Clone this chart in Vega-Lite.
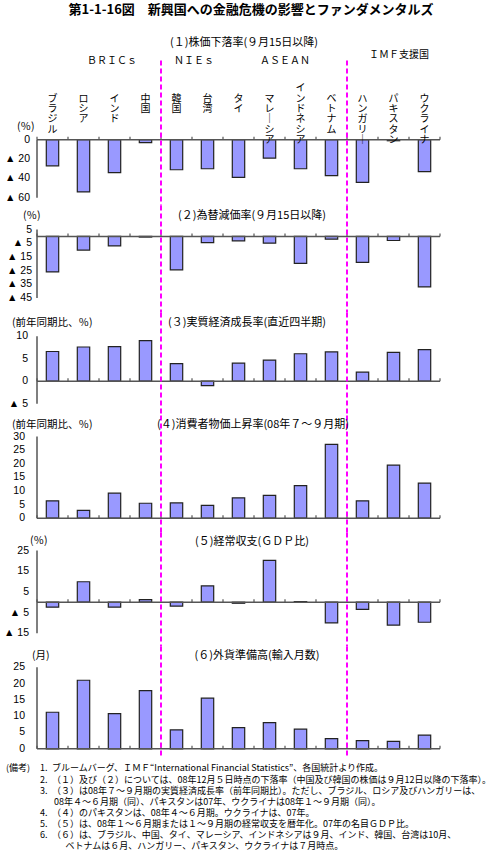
{
  "$schema": "https://vega.github.io/schema/vega-lite/v6.json",
  "padding": {"left": 4, "top": 3.5, "right": 2, "bottom": 2},
  "background": "white",
  "spacing": 0,
  "bounds": "flush",
  "config": {
    "view": {"stroke": null},
    "font": "Noto Sans CJK JP",
    "text": {"font": "Noto Sans CJK JP", "color": "#000"},
    "axis": {"domain": false, "grid": false, "labels": false, "tickColor": "#555", "tickWidth": 1.5, "tickSize": -3}
  },
  "data": {"values": [
    {"country": "ブラジル", "stock": -27, "fx": -26, "gdp": 6.6, "cpi": 6.4, "ca": -2.4, "reserves": 11.2},
    {"country": "ロシア", "stock": -54, "fx": -10, "gdp": 7.6, "cpi": 2.9, "ca": 9.9, "reserves": 21.0},
    {"country": "インド", "stock": -34, "fx": -7, "gdp": 7.7, "cpi": 9.2, "ca": -2.4, "reserves": 10.8},
    {"country": "中国", "stock": -3, "fx": -0.5, "gdp": 9.0, "cpi": 5.5, "ca": 1.2, "reserves": 17.8},
    {"country": "韓国", "stock": -31, "fx": -24.5, "gdp": 3.9, "cpi": 5.6, "ca": -1.9, "reserves": 5.8},
    {"country": "台湾", "stock": -30, "fx": -4.5, "gdp": -1.0, "cpi": 4.7, "ca": 7.9, "reserves": 15.5},
    {"country": "タイ", "stock": -39, "fx": -3.3, "gdp": 4.0, "cpi": 7.5, "ca": -0.5, "reserves": 6.5},
    {"country": "マレーシア", "stock": -19, "fx": -5, "gdp": 4.7, "cpi": 8.4, "ca": 20.2, "reserves": 8.0},
    {"country": "インドネシア", "stock": -30, "fx": -19.7, "gdp": 6.1, "cpi": 12.0, "ca": 0.3, "reserves": 6.0},
    {"country": "ベトナム", "stock": -37, "fx": -2, "gdp": 6.5, "cpi": 27.1, "ca": -10.0, "reserves": 3.1},
    {"country": "ハンガリー", "stock": -44, "fx": -19, "gdp": 2.0, "cpi": 6.4, "ca": -3.5, "reserves": 2.5},
    {"country": "パキスタン", "stock": -1, "fx": -3, "gdp": 6.4, "cpi": 19.5, "ca": -11.1, "reserves": 2.3},
    {"country": "ウクライナ", "stock": -33, "fx": -37, "gdp": 7.0, "cpi": 12.9, "ca": -9.7, "reserves": 4.2}
  ]},
  "vconcat": [
    {
      "width": 403, "height": 145,
      "layer": [
        {"mark": {"type": "bar", "width": {"band": 0.4}, "fill": "#9999FF", "stroke": "#222", "strokeWidth": 1.2},
         "encoding": {
           "x": {"field": "country", "type": "nominal", "axis": null, "scale": {"domain": ["ブラジル","ロシア","インド","中国","韓国","台湾","タイ","マレーシア","インドネシア","ベトナム","ハンガリー","パキスタン","ウクライナ"], "paddingInner": 0, "paddingOuter": 0}},
           "y": {"field": "stock", "type": "quantitative", "scale": {"domain": [-68, 82], "nice": false, "zero": false}, "axis": {"title": null, "values": [0, -20, -40, -60]}}}},
        {"data": {"values": [{"v": 0, "lab": "0"}, {"v": -20, "lab": "▲ 20"}, {"v": -40, "lab": "▲ 40"}, {"v": -60, "lab": "▲ 60"}]},
         "mark": {"type": "text", "font": "Liberation Sans", "fontSize": 10.5, "align": "right", "baseline": "middle", "dx": -7},
         "encoding": {"x": {"datum": "ブラジル", "bandPosition": 0, "axis": null}, "y": {"field": "v", "type": "quantitative", "axis": null, "title": null}, "text": {"field": "lab"}}},
        {"data": {"values": [{}]}, "mark": {"type": "rule", "color": "#555", "strokeWidth": 1.5}, "encoding": {"y": {"datum": 0, "axis": null}}},
        {"mark": {"type": "rule", "color": "#555", "strokeWidth": 1.2, "y2Offset": -3}, "encoding": {"x": {"field": "country", "type": "nominal", "bandPosition": 0, "axis": null}, "y": {"datum": 0, "axis": null}, "y2": {"datum": 0}}},
        {"data": {"values": [{}]}, "mark": {"type": "rule", "color": "#555", "strokeWidth": 1.2, "y2Offset": -3}, "encoding": {"x": {"datum": "ウクライナ", "bandPosition": 1, "axis": null}, "y": {"datum": 0, "axis": null}, "y2": {"datum": 0}}},
        {"data": {"values": [{}]}, "mark": {"type": "rule", "color": "#555", "strokeWidth": 1.5}, "encoding": {"x": {"datum": "ブラジル", "bandPosition": 0, "axis": null}, "y": {"datum": -60, "axis": null}, "y2": {"datum": 0}}},
        {"data": {"values": [{"c": "韓国"}, {"c": "ハンガリー"}]}, "mark": {"type": "rule", "color": "#FF00FF", "strokeWidth": 2, "strokeDash": [5, 3]}, "encoding": {"x": {"field": "c", "type": "nominal", "bandPosition": 0, "axis": null}}},
        {"transform": [{"calculate": "split(pad(replace(datum.country, 'ー', '｜'), 6, '　', 'left'), '')", "as": "vlabel"}],
         "mark": {"type": "text", "fontSize": 10, "lineHeight": 10.3, "baseline": "alphabetic", "align": "center"},
         "encoding": {"x": {"field": "country", "type": "nominal", "axis": null}, "y": {"datum": 50, "axis": null}, "text": {"field": "vlabel"}}},
        {"data": {"values": [{}]}, "mark": {"type": "text", "fontSize": 13, "fontWeight": "bold", "baseline": "middle", "align": "center", "dx": 12.5},
         "encoding": {"x": {"datum": "タイ", "axis": null}, "y": {"datum": 133.8, "axis": null}, "text": {"value": "第1-1-16図　新興国への金融危機の影響とファンダメンタルズ"}}},
        {"data": {"values": [{}]}, "mark": {"type": "text", "fontSize": 11, "baseline": "middle", "align": "center", "dx": 5.5},
         "encoding": {"x": {"datum": "タイ", "axis": null}, "y": {"datum": 99.6, "axis": null}, "text": {"value": "(１)株価下落率(９月15日以降)"}}},
        {"data": {"values": [{}]}, "mark": {"type": "text", "fontSize": 10, "baseline": "middle", "align": "center", "dx": -2.5},
         "encoding": {"x": {"datum": "インド", "axis": null}, "y": {"datum": 82, "axis": null}, "text": {"value": "ＢＲＩＣｓ"}}},
        {"data": {"values": [{}]}, "mark": {"type": "text", "fontSize": 10, "baseline": "middle", "align": "center", "dx": 2},
         "encoding": {"x": {"datum": "台湾", "bandPosition": 0, "axis": null}, "y": {"datum": 82, "axis": null}, "text": {"value": "ＮＩＥｓ"}}},
        {"data": {"values": [{}]}, "mark": {"type": "text", "fontSize": 10, "baseline": "middle", "align": "center"},
         "encoding": {"x": {"datum": "インドネシア", "bandPosition": 0, "axis": null}, "y": {"datum": 82, "axis": null}, "text": {"value": "ＡＳＥＡＮ"}}},
        {"data": {"values": [{}]}, "mark": {"type": "text", "fontSize": 10, "baseline": "middle", "align": "center", "dx": 5.5},
         "encoding": {"x": {"datum": "パキスタン", "axis": null}, "y": {"datum": 87.2, "axis": null}, "text": {"value": "ＩＭＦ支援国"}}},
        {"data": {"values": [{}]}, "mark": {"type": "text", "fontSize": 10.5, "baseline": "middle", "align": "left", "dx": -20},
         "encoding": {"x": {"datum": "ブラジル", "bandPosition": 0, "axis": null}, "y": {"datum": 12.7, "axis": null}, "text": {"value": "(％)"}}}
      ]
    },
    {
      "width": 403, "height": 107,
      "layer": [
        {"mark": {"type": "bar", "width": {"band": 0.4}, "fill": "#9999FF", "stroke": "#222", "strokeWidth": 1.2},
         "encoding": {
           "x": {"field": "country", "type": "nominal", "axis": null, "scale": {"domain": ["ブラジル","ロシア","インド","中国","韓国","台湾","タイ","マレーシア","インドネシア","ベトナム","ハンガリー","パキスタン","ウクライナ"], "paddingInner": 0, "paddingOuter": 0}},
           "y": {"field": "fx", "type": "quantitative", "scale": {"domain": [-55.7, 22.6], "nice": false, "zero": false}, "axis": {"title": null, "values": [5, -5, -15, -25, -35, -45]}}}},
        {"data": {"values": [{"v": 5, "lab": "5"}, {"v": -5, "lab": "▲ 5"}, {"v": -15, "lab": "▲ 15"}, {"v": -25, "lab": "▲ 25"}, {"v": -35, "lab": "▲ 35"}, {"v": -45, "lab": "▲ 45"}]},
         "mark": {"type": "text", "font": "Liberation Sans", "fontSize": 10.5, "align": "right", "baseline": "middle", "dx": -5},
         "encoding": {"x": {"datum": "ブラジル", "bandPosition": 0, "axis": null}, "y": {"field": "v", "type": "quantitative", "axis": null, "title": null}, "text": {"field": "lab"}}},
        {"data": {"values": [{}]}, "mark": {"type": "rule", "color": "#555", "strokeWidth": 1.5}, "encoding": {"y": {"datum": 0, "axis": null}}},
        {"mark": {"type": "rule", "color": "#555", "strokeWidth": 1.2, "y2Offset": -3}, "encoding": {"x": {"field": "country", "type": "nominal", "bandPosition": 0, "axis": null}, "y": {"datum": 0, "axis": null}, "y2": {"datum": 0}}},
        {"data": {"values": [{}]}, "mark": {"type": "rule", "color": "#555", "strokeWidth": 1.2, "y2Offset": -3}, "encoding": {"x": {"datum": "ウクライナ", "bandPosition": 1, "axis": null}, "y": {"datum": 0, "axis": null}, "y2": {"datum": 0}}},
        {"data": {"values": [{}]}, "mark": {"type": "rule", "color": "#555", "strokeWidth": 1.5}, "encoding": {"x": {"datum": "ブラジル", "bandPosition": 0, "axis": null}, "y": {"datum": -45, "axis": null}, "y2": {"datum": 5}}},
        {"data": {"values": [{"c": "韓国"}, {"c": "ハンガリー"}]}, "mark": {"type": "rule", "color": "#FF00FF", "strokeWidth": 2, "strokeDash": [5, 3]}, "encoding": {"x": {"field": "c", "type": "nominal", "bandPosition": 0, "axis": null}}},
        {"data": {"values": [{}]}, "mark": {"type": "text", "fontSize": 11, "baseline": "middle", "align": "center", "dx": 13.5},
         "encoding": {"x": {"datum": "タイ", "axis": null}, "y": {"datum": 15.2, "axis": null}, "text": {"value": "(２)為替減価率(９月15日以降)"}}},
        {"data": {"values": [{}]}, "mark": {"type": "text", "fontSize": 10.5, "baseline": "middle", "align": "left", "dx": -14},
         "encoding": {"x": {"datum": "ブラジル", "bandPosition": 0, "axis": null}, "y": {"datum": 15.2, "axis": null}, "text": {"value": "(％)"}}}
      ]
    },
    {
      "width": 403, "height": 103,
      "layer": [
        {"mark": {"type": "bar", "width": {"band": 0.4}, "fill": "#9999FF", "stroke": "#222", "strokeWidth": 1.2},
         "encoding": {
           "x": {"field": "country", "type": "nominal", "axis": null, "scale": {"domain": ["ブラジル","ロシア","インド","中国","韓国","台湾","タイ","マレーシア","インドネシア","ベトナム","ハンガリー","パキスタン","ウクライナ"], "paddingInner": 0, "paddingOuter": 0}},
           "y": {"field": "gdp", "type": "quantitative", "scale": {"domain": [-7.62, 15.27], "nice": false, "zero": false}, "axis": {"title": null, "values": [10, 5, 0, -5]}}}},
        {"data": {"values": [{"v": 10, "lab": "10"}, {"v": 5, "lab": "5"}, {"v": 0, "lab": "0"}, {"v": -5, "lab": "▲ 5"}]},
         "mark": {"type": "text", "font": "Liberation Sans", "fontSize": 10.5, "align": "right", "baseline": "middle", "dx": -9},
         "encoding": {"x": {"datum": "ブラジル", "bandPosition": 0, "axis": null}, "y": {"field": "v", "type": "quantitative", "axis": null, "title": null}, "text": {"field": "lab"}}},
        {"data": {"values": [{}]}, "mark": {"type": "rule", "color": "#555", "strokeWidth": 1.5}, "encoding": {"y": {"datum": 0, "axis": null}}},
        {"mark": {"type": "rule", "color": "#555", "strokeWidth": 1.2, "y2Offset": -3}, "encoding": {"x": {"field": "country", "type": "nominal", "bandPosition": 0, "axis": null}, "y": {"datum": 0, "axis": null}, "y2": {"datum": 0}}},
        {"data": {"values": [{}]}, "mark": {"type": "rule", "color": "#555", "strokeWidth": 1.2, "y2Offset": -3}, "encoding": {"x": {"datum": "ウクライナ", "bandPosition": 1, "axis": null}, "y": {"datum": 0, "axis": null}, "y2": {"datum": 0}}},
        {"data": {"values": [{}]}, "mark": {"type": "rule", "color": "#555", "strokeWidth": 1.5}, "encoding": {"x": {"datum": "ブラジル", "bandPosition": 0, "axis": null}, "y": {"datum": -5, "axis": null}, "y2": {"datum": 10}}},
        {"data": {"values": [{"c": "韓国"}, {"c": "ハンガリー"}]}, "mark": {"type": "rule", "color": "#FF00FF", "strokeWidth": 2, "strokeDash": [5, 3]}, "encoding": {"x": {"field": "c", "type": "nominal", "bandPosition": 0, "axis": null}}},
        {"data": {"values": [{}]}, "mark": {"type": "text", "fontSize": 11, "baseline": "middle", "align": "center", "dx": 8.5},
         "encoding": {"x": {"datum": "タイ", "axis": null}, "y": {"datum": 13.0, "axis": null}, "text": {"value": "(３)実質経済成長率(直近四半期)"}}},
        {"data": {"values": [{}]}, "mark": {"type": "text", "fontSize": 10.5, "baseline": "middle", "align": "left", "dx": -25},
         "encoding": {"x": {"datum": "ブラジル", "bandPosition": 0, "axis": null}, "y": {"datum": 13.0, "axis": null}, "text": {"value": "(前年同期比、％)"}}}
      ]
    },
    {
      "width": 403, "height": 117,
      "layer": [
        {"mark": {"type": "bar", "width": {"band": 0.4}, "fill": "#9999FF", "stroke": "#222", "strokeWidth": 1.2},
         "encoding": {
           "x": {"field": "country", "type": "nominal", "axis": null, "scale": {"domain": ["ブラジル","ロシア","インド","中国","韓国","台湾","タイ","マレーシア","インドネシア","ベトナム","ハンガリー","パキスタン","ウクライナ"], "paddingInner": 0, "paddingOuter": 0}},
           "y": {"field": "cpi", "type": "quantitative", "scale": {"domain": [-5.25, 37.73], "nice": false, "zero": false}, "axis": {"title": null, "values": [0, 5, 10, 15, 20, 25, 30]}}}},
        {"data": {"values": [{"v": 0, "lab": "0"}, {"v": 5, "lab": "5"}, {"v": 10, "lab": "10"}, {"v": 15, "lab": "15"}, {"v": 20, "lab": "20"}, {"v": 25, "lab": "25"}, {"v": 30, "lab": "30"}]},
         "mark": {"type": "text", "font": "Liberation Sans", "fontSize": 10.5, "align": "right", "baseline": "middle", "dx": -12},
         "encoding": {"x": {"datum": "ブラジル", "bandPosition": 0, "axis": null}, "y": {"field": "v", "type": "quantitative", "axis": null, "title": null}, "text": {"field": "lab"}}},
        {"data": {"values": [{}]}, "mark": {"type": "rule", "color": "#555", "strokeWidth": 1.5}, "encoding": {"y": {"datum": 0, "axis": null}}},
        {"mark": {"type": "rule", "color": "#555", "strokeWidth": 1.2, "y2Offset": -3}, "encoding": {"x": {"field": "country", "type": "nominal", "bandPosition": 0, "axis": null}, "y": {"datum": 0, "axis": null}, "y2": {"datum": 0}}},
        {"data": {"values": [{}]}, "mark": {"type": "rule", "color": "#555", "strokeWidth": 1.2, "y2Offset": -3}, "encoding": {"x": {"datum": "ウクライナ", "bandPosition": 1, "axis": null}, "y": {"datum": 0, "axis": null}, "y2": {"datum": 0}}},
        {"data": {"values": [{}]}, "mark": {"type": "rule", "color": "#555", "strokeWidth": 1.5}, "encoding": {"x": {"datum": "ブラジル", "bandPosition": 0, "axis": null}, "y": {"datum": 0, "axis": null}, "y2": {"datum": 30}}},
        {"data": {"values": [{"c": "韓国"}, {"c": "ハンガリー"}]}, "mark": {"type": "rule", "color": "#FF00FF", "strokeWidth": 2, "strokeDash": [5, 3]}, "encoding": {"x": {"field": "c", "type": "nominal", "bandPosition": 0, "axis": null}}},
        {"data": {"values": [{}]}, "mark": {"type": "text", "fontSize": 11, "baseline": "middle", "align": "center", "dx": 14.5},
         "encoding": {"x": {"datum": "タイ", "axis": null}, "y": {"datum": 34.1, "axis": null}, "text": {"value": "(４)消費者物価上昇率(08年７～９月期)"}}},
        {"data": {"values": [{}]}, "mark": {"type": "text", "fontSize": 10.5, "baseline": "middle", "align": "left", "dx": -25},
         "encoding": {"x": {"datum": "ブラジル", "bandPosition": 0, "axis": null}, "y": {"datum": 34.1, "axis": null}, "text": {"value": "(前年同期比、％)"}}}
      ]
    },
    {
      "width": 403, "height": 114,
      "layer": [
        {"mark": {"type": "bar", "width": {"band": 0.4}, "fill": "#9999FF", "stroke": "#222", "strokeWidth": 1.2},
         "encoding": {
           "x": {"field": "country", "type": "nominal", "axis": null, "scale": {"domain": ["ブラジル","ロシア","インド","中国","韓国","台湾","タイ","マレーシア","インドネシア","ベトナム","ハンガリー","パキスタン","ウクライナ"], "paddingInner": 0, "paddingOuter": 0}},
           "y": {"field": "ca", "type": "quantitative", "scale": {"domain": [-21.43, 33.72], "nice": false, "zero": false}, "axis": {"title": null, "values": [25, 15, 5, -5, -15]}}}},
        {"data": {"values": [{"v": 25, "lab": "25"}, {"v": 15, "lab": "15"}, {"v": 5, "lab": "5"}, {"v": -5, "lab": "▲ 5"}, {"v": -15, "lab": "▲ 15"}]},
         "mark": {"type": "text", "font": "Liberation Sans", "fontSize": 10.5, "align": "right", "baseline": "middle", "dx": -8},
         "encoding": {"x": {"datum": "ブラジル", "bandPosition": 0, "axis": null}, "y": {"field": "v", "type": "quantitative", "axis": null, "title": null}, "text": {"field": "lab"}}},
        {"data": {"values": [{}]}, "mark": {"type": "rule", "color": "#555", "strokeWidth": 1.5}, "encoding": {"y": {"datum": 0, "axis": null}}},
        {"mark": {"type": "rule", "color": "#555", "strokeWidth": 1.2, "y2Offset": -3}, "encoding": {"x": {"field": "country", "type": "nominal", "bandPosition": 0, "axis": null}, "y": {"datum": 0, "axis": null}, "y2": {"datum": 0}}},
        {"data": {"values": [{}]}, "mark": {"type": "rule", "color": "#555", "strokeWidth": 1.2, "y2Offset": -3}, "encoding": {"x": {"datum": "ウクライナ", "bandPosition": 1, "axis": null}, "y": {"datum": 0, "axis": null}, "y2": {"datum": 0}}},
        {"data": {"values": [{}]}, "mark": {"type": "rule", "color": "#555", "strokeWidth": 1.5}, "encoding": {"x": {"datum": "ブラジル", "bandPosition": 0, "axis": null}, "y": {"datum": -15, "axis": null}, "y2": {"datum": 25}}},
        {"data": {"values": [{"c": "韓国"}, {"c": "ハンガリー"}]}, "mark": {"type": "rule", "color": "#FF00FF", "strokeWidth": 2, "strokeDash": [5, 3]}, "encoding": {"x": {"field": "c", "type": "nominal", "bandPosition": 0, "axis": null}}},
        {"data": {"values": [{}]}, "mark": {"type": "text", "fontSize": 11, "baseline": "middle", "align": "center", "dx": 13.5},
         "encoding": {"x": {"datum": "タイ", "axis": null}, "y": {"datum": 28.9, "axis": null}, "text": {"value": "(５)経常収支(ＧＤＰ比)"}}},
        {"data": {"values": [{}]}, "mark": {"type": "text", "fontSize": 10.5, "baseline": "middle", "align": "left", "dx": -7},
         "encoding": {"x": {"datum": "ブラジル", "bandPosition": 0, "axis": null}, "y": {"datum": 29.4, "axis": null}, "text": {"value": "(％)"}}}
      ]
    },
    {
      "width": 403, "height": 112,
      "layer": [
        {"mark": {"type": "bar", "width": {"band": 0.4}, "fill": "#9999FF", "stroke": "#222", "strokeWidth": 1.2},
         "encoding": {
           "x": {"field": "country", "type": "nominal", "axis": null, "scale": {"domain": ["ブラジル","ロシア","インド","中国","韓国","台湾","タイ","マレーシア","インドネシア","ベトナム","ハンガリー","パキスタン","ウクライナ"], "paddingInner": 0, "paddingOuter": 0}},
           "y": {"field": "reserves", "type": "quantitative", "scale": {"domain": [-2.97, 31.34], "nice": false, "zero": false}, "axis": {"title": null, "values": [0, 5, 10, 15, 20, 25]}}}},
        {"data": {"values": [{"v": 0, "lab": "0"}, {"v": 5, "lab": "5"}, {"v": 10, "lab": "10"}, {"v": 15, "lab": "15"}, {"v": 20, "lab": "20"}, {"v": 25, "lab": "25"}]},
         "mark": {"type": "text", "font": "Liberation Sans", "fontSize": 10.5, "align": "right", "baseline": "middle", "dx": -12},
         "encoding": {"x": {"datum": "ブラジル", "bandPosition": 0, "axis": null}, "y": {"field": "v", "type": "quantitative", "axis": null, "title": null}, "text": {"field": "lab"}}},
        {"data": {"values": [{}]}, "mark": {"type": "rule", "color": "#555", "strokeWidth": 1.5}, "encoding": {"y": {"datum": 0, "axis": null}}},
        {"mark": {"type": "rule", "color": "#555", "strokeWidth": 1.2, "y2Offset": -3}, "encoding": {"x": {"field": "country", "type": "nominal", "bandPosition": 0, "axis": null}, "y": {"datum": 0, "axis": null}, "y2": {"datum": 0}}},
        {"data": {"values": [{}]}, "mark": {"type": "rule", "color": "#555", "strokeWidth": 1.2, "y2Offset": -3}, "encoding": {"x": {"datum": "ウクライナ", "bandPosition": 1, "axis": null}, "y": {"datum": 0, "axis": null}, "y2": {"datum": 0}}},
        {"data": {"values": [{}]}, "mark": {"type": "rule", "color": "#555", "strokeWidth": 1.5}, "encoding": {"x": {"datum": "ブラジル", "bandPosition": 0, "axis": null}, "y": {"datum": 0, "axis": null}, "y2": {"datum": 25}}},
        {"data": {"values": [{"c": "韓国"}, {"c": "ハンガリー"}]}, "mark": {"type": "rule", "color": "#FF00FF", "strokeWidth": 2, "strokeDash": [5, 3]}, "encoding": {"x": {"field": "c", "type": "nominal", "bandPosition": 0, "axis": null}}},
        {"data": {"values": [{}]}, "mark": {"type": "text", "fontSize": 11, "baseline": "middle", "align": "center", "dx": 18.5},
         "encoding": {"x": {"datum": "タイ", "axis": null}, "y": {"datum": 28.3, "axis": null}, "text": {"value": "(６)外貨準備高(輸入月数)"}}},
        {"data": {"values": [{}]}, "mark": {"type": "text", "fontSize": 10.5, "baseline": "middle", "align": "left", "dx": -5},
         "encoding": {"x": {"datum": "ブラジル", "bandPosition": 0, "axis": null}, "y": {"datum": 28.3, "axis": null}, "text": {"value": "(月)"}}},
        {"data": {"values": [{}]}, "mark": {"type": "text", "fontSize": 9, "baseline": "top", "align": "left", "dx": -31},
         "encoding": {"x": {"datum": "ブラジル", "bandPosition": 0, "axis": null}, "y": {"datum": -4.8, "axis": null}, "text": {"value": "(備考)"}}},
        {"data": {"values": [{}]}, "mark": {"type": "text", "fontSize": 9, "lineHeight": 11.1, "baseline": "top", "align": "left", "dx": 3},
         "encoding": {"x": {"datum": "ブラジル", "bandPosition": 0, "axis": null}, "y": {"datum": -4.8, "axis": null}, "text": {"value": ["1.", "2.", "3.", "\u200b", "4.", "5.", "6.", "\u200b"]}}},
        {"data": {"values": [{}]}, "mark": {"type": "text", "fontSize": 9, "lineHeight": 11.1, "baseline": "top", "align": "left", "dx": 15},
         "encoding": {"x": {"datum": "ブラジル", "bandPosition": 0, "axis": null}, "y": {"datum": -4.8, "axis": null}, "text": {"value": [
           "ブルームバーグ、ＩＭＦ“International Financial Statistics”、各国統計より作成。",
           "（１）及び（２）については、08年12月５日時点の下落率（中国及び韓国の株価は９月12日以降の下落率）。",
           "（３）は08年７～９月期の実質経済成長率（前年同期比）。ただし、ブラジル、ロシア及びハンガリーは、",
           "\u200b 08年４～６月期（同）、パキスタンは07年、ウクライナは08年１～９月期（同）。",
           "（４）のパキスタンは、08年４～６月期。ウクライナは、07年。",
           "（５）は、08年１～６月期または１～９月期の経常収支を暦年化。07年の名目ＧＤＰ比。",
           "（６）は、ブラジル、中国、タイ、マレーシア、インドネシアは９月、インド、韓国、台湾は10月、",
           "\u200b\u3000\u2002ベトナムは６月、ハンガリー、パキスタン、ウクライナは７月時点。"
         ]}}}
      ]
    }
  ]
}
